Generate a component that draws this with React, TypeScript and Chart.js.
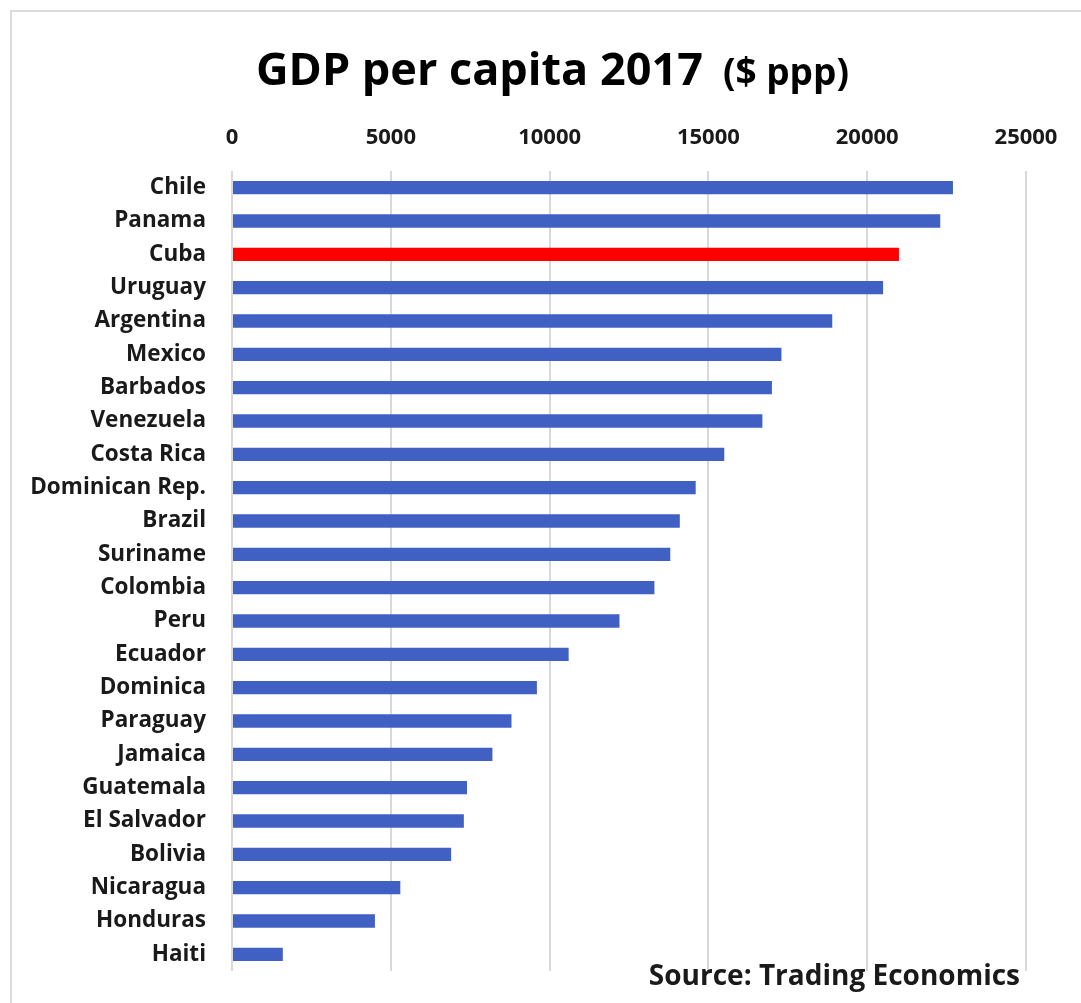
import React, { useEffect, useRef } from "react";
import { Chart, registerables } from "chart.js";

Chart.register(...registerables);

const countries = [
  "Chile", "Panama", "Cuba", "Uruguay", "Argentina", "Mexico", "Barbados", "Venezuela",
  "Costa Rica", "Dominican Rep.", "Brazil", "Suriname", "Colombia", "Peru", "Ecuador",
  "Dominica", "Paraguay", "Jamaica", "Guatemala", "El Salvador", "Bolivia", "Nicaragua",
  "Honduras", "Haiti",
];
const gdpPerCapita = [
  22700, 22300, 21000, 20500, 18900, 17300, 17000, 16700,
  15500, 14600, 14100, 13800, 13300, 12200, 10600,
  9600, 8800, 8200, 7400, 7300, 6900, 5300,
  4500, 1600,
];
const highlighted = ["Cuba"];
const xTicks = [0, 5000, 10000, 15000, 20000, 25000];
const titleMain = "GDP per capita 2017";
const titleSuffix = "($ ppp)";
const sourceText = "Source: Trading Economics";

const BLUE = "#4160c4";
const RED = "#ff0000";
const FONT = "'Open Sans', 'DejaVu Sans', sans-serif";

const decorPlugin = {
  id: "decor",
  beforeDraw(chart: any) {
    const ctx = chart.ctx;
    ctx.save();
    ctx.fillStyle = "#ffffff";
    ctx.fillRect(0, 0, chart.width, chart.height);
    ctx.strokeStyle = "#dcdcdc";
    ctx.lineWidth = 2;
    ctx.beginPath();
    ctx.moveTo(11, chart.height);
    ctx.lineTo(11, 11);
    ctx.lineTo(chart.width, 11);
    ctx.stroke();
    ctx.restore();
  },
  afterDraw(chart: any) {
    const ctx = chart.ctx;
    ctx.save();
    ctx.fillStyle = "#000000";
    ctx.textBaseline = "alphabetic";
    ctx.textAlign = "left";
    ctx.font = `bold 45px ${FONT}`;
    const x0 = 256;
    ctx.fillText(titleMain, x0, 85);
    const w = ctx.measureText(titleMain).width;
    ctx.font = `bold 37px ${FONT}`;
    ctx.fillText(titleSuffix, x0 + w + 20, 85);
    ctx.font = `bold 28px ${FONT}`;
    ctx.textAlign = "right";
    ctx.fillStyle = "#1a1a1a";
    ctx.fillText(sourceText, 1020, 985);
    ctx.restore();
  },
};

export default function App() {
  const ref = useRef<HTMLCanvasElement | null>(null);

  useEffect(() => {
    if (!ref.current) return;
    const chart = new Chart(ref.current, {
      type: "bar",
      data: {
        labels: countries,
        datasets: [
          {
            data: gdpPerCapita,
            backgroundColor: countries.map((c) => (highlighted.includes(c) ? RED : BLUE)),
            borderWidth: 0,
            barPercentage: 0.4,
            categoryPercentage: 1,
          },
        ],
      },
      options: {
        indexAxis: "y",
        responsive: false,
        animation: false,
        layout: { padding: { left: 0, right: 55, top: 0, bottom: 32 } },
        plugins: {
          legend: { display: false },
          title: { display: false },
          tooltip: { enabled: false },
        },
        scales: {
          x: {
            position: "top",
            min: 0,
            max: 25000,
            afterBuildTicks: (scale: any) => {
              scale.ticks = xTicks.map((v) => ({ value: v }));
            },
            afterFit: (scale: any) => {
              scale.height = 171;
            },
            ticks: {
              padding: 20,
              color: "#1a1a1a",
              font: { family: FONT, size: 22, weight: "bold" },
              callback: (v: any) => String(v),
              maxRotation: 0,
            },
            grid: { color: "#d9d9d9", lineWidth: 2, drawTicks: false },
            border: { display: false },
          },
          y: {
            afterFit: (scale: any) => {
              scale.width = 232;
              scale.paddingTop = 0;
              scale.paddingBottom = 0;
            },
            ticks: {
              padding: 26,
              color: "#1a1a1a",
              font: { family: FONT, size: 22.5, weight: "bold" },
              autoSkip: false,
            },
            grid: { display: false, drawTicks: false },
            border: { display: false },
          },
        },
      },
      plugins: [decorPlugin],
    } as any);
    return () => chart.destroy();
  }, []);

  return (
    <div style={{ position: "absolute", left: 0, top: 0, width: 1081, height: 1003, background: "#fff" }}>
      <canvas ref={ref} width={1081} height={1003} style={{ display: "block" }} />
    </div>
  );
}
